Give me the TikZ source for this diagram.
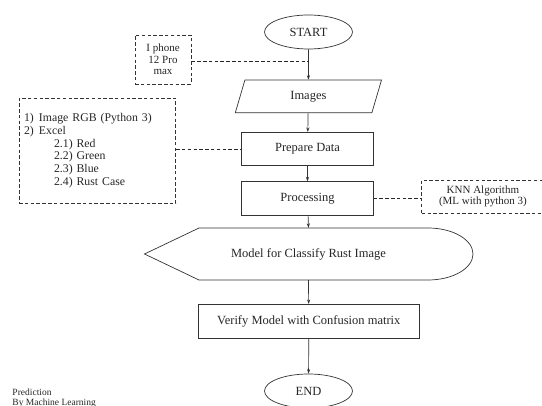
\documentclass[tikz,border=0pt]{standalone}
\usepackage{fontspec}
\setmainfont{Liberation Serif}
\usetikzlibrary{shapes.geometric,arrows.meta}

\tikzset{
  ink/.style={draw=black!80, line width=0.7pt},
  flowbox/.style={ink, rectangle, inner sep=2pt, text=black!85,
    font=\fontsize{12.5}{13}\selectfont},
  terminal/.style={ink, ellipse, minimum width=88pt, minimum height=34pt,
    inner sep=0pt, text=black!85, font=\fontsize{12.5}{13}\selectfont},
  notebox/.style={draw=black!80, line width=0.8pt, dash pattern=on 3.5pt off 2.3pt,
    rectangle, text=black!85},
  flow/.style={draw=black!80, line width=0.7pt, -{Stealth[length=4.5pt,width=3.2pt]}},
  tie/.style={draw=black!85, line width=0.8pt, dash pattern=on 3.5pt off 2.3pt},
}

\begin{document}
\begin{tikzpicture}[x=1pt, y=-1pt]
\useasboundingbox (0,0) rectangle (542,406);
\clip (0,0) rectangle (542,406);

% main flow
\node[terminal] (start) at (308.5,32) {START};
\node[flowbox, trapezium, trapezium left angle=78.5, trapezium right angle=101.5,
      trapezium stretches=true, minimum width=146.7pt, minimum height=32.7pt]
      (images) at (308.4,96.4) {Images};
\node[flowbox, minimum width=131.6pt, minimum height=33.4pt] (prepare) at (307.5,149) {Prepare Data};
\node[flowbox, minimum width=131.6pt, minimum height=33.3pt] (processing) at (307.5,198.3) {Processing};

% display-shaped model block
\draw[ink] (144.5,254) -- (199,228) -- (428,228)
  arc[start angle=-90, end angle=90, x radius=45, y radius=26]
  -- (199,280) -- cycle;
\node[text=black!85, font=\fontsize{12.5}{13}\selectfont, minimum height=52pt, inner sep=0pt]
  (model) at (308.5,254) {Model for Classify Rust Image};

\node[flowbox, minimum width=221pt, minimum height=34pt] (verify) at (308.8,321.3) {Verify Model with Confusion matrix};
\node[terminal] (end) at (308.5,391) {END};

% side notes
\node[notebox, minimum width=56pt, minimum height=49pt, align=center, inner sep=1pt,
      font=\fontsize{11}{11.4}\selectfont] (iphone) at (163,59.5) {I phone\\12 Pro\\max};
\node[notebox, minimum width=156.7pt, minimum height=105pt, text width=146.7pt,
      inner sep=5pt, align=left, font=\fontsize{11.8}{12.7}\selectfont] (data) at (97.35,150.8)
  {\makebox[15pt][l]{1)}Image RGB (Python 3)\\
   \makebox[15pt][l]{2)}Excel\\
   \hspace*{30pt}2.1) Red\\
   \hspace*{30pt}2.2) Green\\
   \hspace*{30pt}2.3) Blue\\
   \hspace*{30pt}2.4) Rust Case};
\node[notebox, minimum width=122.3pt, minimum height=33.3pt, align=center, inner sep=1pt,
      font=\fontsize{11}{10.7}\selectfont] (knn) at (482.9,196.7) {KNN Algorithm\\(ML with python 3)};

\node[anchor=south west, inner sep=0pt, align=left, text=black!85,
      font=\fontsize{9.5}{9.6}\selectfont] (caption) at (12.3,407.4) {Prediction\\By Machine Learning};

% connectors
\coordinate (tapA) at (start.south |- 0,61.7);
\draw[flow] (start) -- (images);
\draw[flow] (images) -- (prepare);
\draw[flow] (prepare) -- (processing);
\draw[flow] (processing) -- (model.north);
\draw[flow] (model.south) -- (verify);
\draw[flow] (verify) -- (end);

\draw[tie] (iphone.east |- tapA) -- (tapA);
\draw[tie] (data.east |- prepare.west) -- (prepare.west);
\draw[tie] (processing.east) -- (knn.west |- processing.east);
\end{tikzpicture}
\end{document}
